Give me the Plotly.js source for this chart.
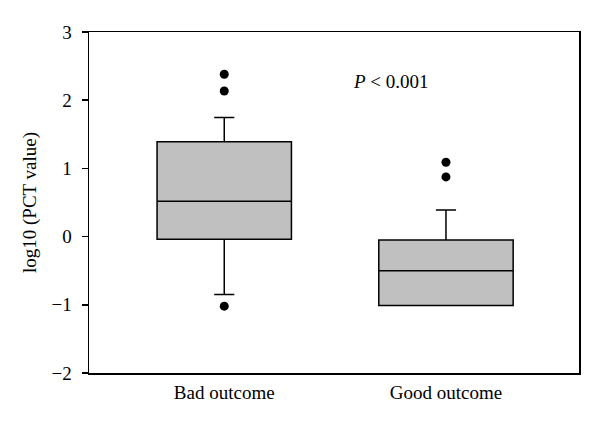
<!DOCTYPE html>
<html>
<head>
<meta charset="utf-8">
<script src="https://cdn.plot.ly/plotly-3.0.1.min.js"></script>
<style>html,body{margin:0;padding:0;background:#fff;}#chart{width:600px;height:424px;}</style>
</head>
<body>
<div id="chart"></div>
<script>
// Data
const categories = ['Bad outcome', 'Good outcome'];
const q1 = [-0.04, -1.01];
const medians = [0.52, -0.50];
const q3 = [1.39, -0.05];
const lowerFence = [-0.85, -1.01];
const upperFence = [1.745, 0.39];
const outlierX = ['Bad outcome', 'Bad outcome', 'Bad outcome', 'Good outcome', 'Good outcome'];
const outlierY = [2.38, 2.135, -1.02, 1.09, 0.875];
const yTicks = [-2, -1, 0, 1, 2, 3];

const fontFam = '"Liberation Serif", "DejaVu Serif", serif';
const fs = 19;

const traces = [
  {
    type: 'box',
    x: categories,
    q1: q1,
    median: medians,
    q3: q3,
    lowerfence: lowerFence,
    upperfence: upperFence,
    boxpoints: false,
    width: 0.606,
    whiskerwidth: 0.15,
    fillcolor: '#c0c0c0',
    line: {color: '#000000', width: 1.5},
    showlegend: false,
    hoverinfo: 'skip'
  },
  {
    type: 'scatter',
    mode: 'markers',
    x: outlierX,
    y: outlierY,
    marker: {color: '#000000', size: 9},
    showlegend: false,
    hoverinfo: 'skip'
  }
];

const layout = {
  width: 600,
  height: 424,
  margin: {l: 89, r: 21, t: 32, b: 51},
  paper_bgcolor: '#ffffff',
  plot_bgcolor: '#ffffff',
  font: {family: fontFam, size: fs, color: '#000000'},
  xaxis: {
    type: 'category',
    range: [-0.61, 1.60],
    showgrid: false,
    zeroline: false,
    showline: true,
    mirror: true,
    linecolor: '#000000',
    linewidth: 1.5,
    ticks: '',
    ticklabelstandoff: 2,
    tickfont: {family: fontFam, size: fs, color: '#000000'}
  },
  yaxis: {
    range: [-2, 3],
    tickvals: yTicks,
    ticktext: yTicks.map(v => v < 0 ? '\u2212' + Math.abs(v) : String(v)),
    showgrid: false,
    zeroline: false,
    showline: true,
    mirror: true,
    linecolor: '#000000',
    linewidth: 1.5,
    ticks: 'outside',
    ticklen: 6,
    tickwidth: 1.5,
    tickcolor: '#000000',
    ticklabelstandoff: 6,
    tickfont: {family: fontFam, size: fs, color: '#000000'},
    title: {text: 'log10 (PCT value)', font: {family: fontFam, size: fs, color: '#000000'}, standoff: 10}
  },
  annotations: [
    {
      xref: 'x', yref: 'y',
      x: 0.752, y: 2.28,
      text: '<i>P</i> &lt; 0.001',
      showarrow: false,
      font: {family: fontFam, size: fs, color: '#000000'}
    }
  ]
};

Plotly.newPlot('chart', traces, layout, {staticPlot: true, displayModeBar: false});
</script>
</body>
</html>
